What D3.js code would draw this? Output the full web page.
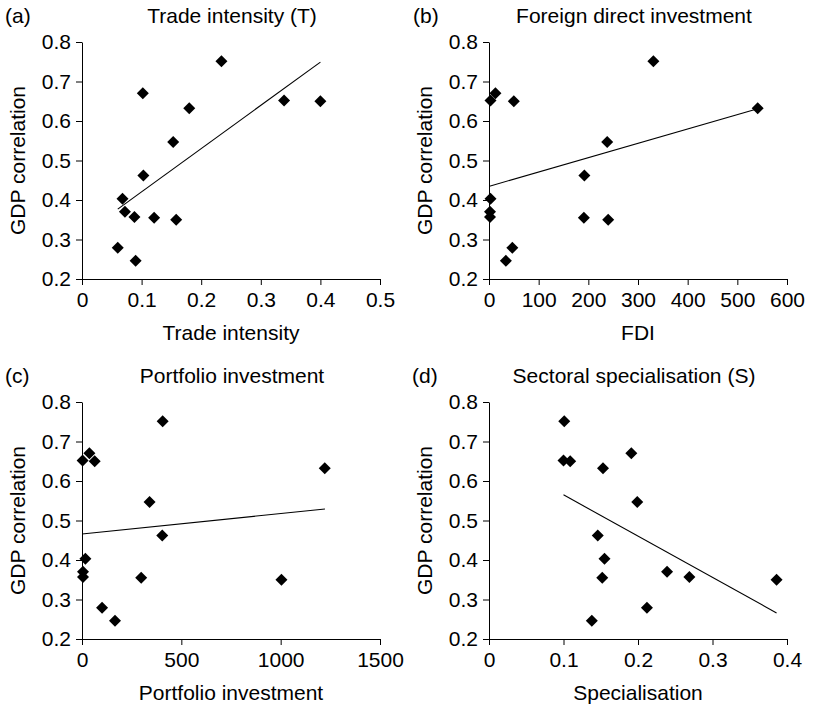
<!DOCTYPE html>
<html>
<head>
<meta charset="utf-8">
<script src="https://cdn.jsdelivr.net/npm/d3@7"></script>
<style>
  body { margin: 0; background: #fff; }
  text { font-family: "Liberation Sans", Arial, sans-serif; }
</style>
</head>
<body>
<div class="chart"></div>
<script>
// GDP correlation of each country pair (shared y values)
var gdpCorr = [0.751, 0.670, 0.652, 0.650, 0.632, 0.547, 0.462, 0.403, 0.370, 0.357, 0.355, 0.350, 0.279, 0.246];

// explanatory variables, same order as gdpCorr
var tradeIntensity = [0.234, 0.102, 0.339, 0.400, 0.180, 0.153, 0.103, 0.068, 0.072, 0.088, 0.121, 0.158, 0.060, 0.090];
var fdi = [331, 13, 3, 50, 541, 238, 192, 3, 2, 2, 191, 240, 47, 34];
var portfolio = [406, 37, 3, 64, 1222, 340, 404, 17, 5, 5, 298, 1004, 101, 166];
var specialisation = [0.101, 0.191, 0.100, 0.109, 0.153, 0.199, 0.146, 0.155, 0.239, 0.269, 0.152, 0.386, 0.212, 0.138];

// fitted trend lines, end points [x, y]
var trendT = [[0.060, 0.377], [0.400, 0.749]];
var trendFdi = [[1, 0.435], [541, 0.631]];
var trendPortfolio = [[0, 0.466], [1223, 0.529]];
var trendSpec = [[0.100, 0.565], [0.386, 0.266]];

// tick values
var yTicks = [0.2, 0.3, 0.4, 0.5, 0.6, 0.7, 0.8];
var xTicksT = [0, 0.1, 0.2, 0.3, 0.4, 0.5];
var xTicksFdi = [0, 100, 200, 300, 400, 500, 600];
var xTicksPortfolio = [0, 500, 1000, 1500];
var xTicksSpec = [0, 0.1, 0.2, 0.3, 0.4];

var panels = [
    { tag: "(a)", title: "Trade intensity (T)", xLabel: "Trade intensity", xs: tradeIntensity, xTicks: xTicksT, trend: trendT,
      left: 82, top: 42, tagX: 5, titleX: 232 },
    { tag: "(b)", title: "Foreign direct investment", xLabel: "FDI", xs: fdi, xTicks: xTicksFdi, trend: trendFdi,
      left: 489, top: 42, tagX: 413, titleX: 634 },
    { tag: "(c)", title: "Portfolio investment", xLabel: "Portfolio investment", xs: portfolio, xTicks: xTicksPortfolio, trend: trendPortfolio,
      left: 82, top: 402, tagX: 5, titleX: 232 },
    { tag: "(d)", title: "Sectoral specialisation (S)", xLabel: "Specialisation", xs: specialisation, xTicks: xTicksSpec, trend: trendSpec,
      left: 489, top: 402, tagX: 412, titleX: 634 }
];

var width = 298;
var height = 237;
var fontSize = 21;

var svg = d3.select(".chart")
    .append("svg")
    .attr("width", 814).attr("height", 705);

panels.forEach(drawPanel);

function drawPanel(p) {
    var data = p.xs.map(function(x, i) { return { x: x, y: gdpCorr[i] }; });

    var xScale = d3.scaleLinear()
        .domain(d3.extent(p.xTicks)).range([0, width]);
    var yScale = d3.scaleLinear()
        .domain(d3.extent(yTicks)).range([height, 0]);

    var g = svg.append("g")
        .attr("transform", `translate(${p.left}, ${p.top})`);

    var bottomAxis = d3.axisBottom(xScale)
        .tickValues(p.xTicks).tickFormat(d => d)
        .tickSize(6).tickSizeOuter(0).tickPadding(7);
    var leftAxis = d3.axisLeft(yScale)
        .tickValues(yTicks).tickFormat(d => d)
        .tickSize(6).tickSizeOuter(0).tickPadding(5);

    var xg = g.append("g")
        .attr("transform", `translate(0, ${height})`)
        .call(bottomAxis);
    var yg = g.append("g").call(leftAxis);

    [xg, yg].forEach(function(ax) {
        ax.attr("font-family", null).attr("font-size", null);
        ax.selectAll("path, line").attr("stroke", "#000");
        ax.selectAll("text").attr("fill", "#000").style("font-size", fontSize + "px");
    });

    // trend line
    g.append("line")
        .attr("x1", xScale(p.trend[0][0])).attr("y1", yScale(p.trend[0][1]))
        .attr("x2", xScale(p.trend[1][0])).attr("y2", yScale(p.trend[1][1]))
        .attr("stroke", "#000").attr("stroke-width", 1.1);

    // diamond markers
    g.selectAll(".pt")
        .data(data)
        .enter()
        .append("path")
        .attr("class", "pt")
        .attr("d", "M0,-6L6,0L0,6L-6,0Z")
        .attr("transform", d => `translate(${xScale(d.x)}, ${yScale(d.y)})`)
        .attr("fill", "#000");

    // texts
    svg.append("text")
        .attr("x", p.tagX).attr("y", p.top - 19)
        .style("font-size", fontSize + "px")
        .text(p.tag);

    svg.append("text")
        .attr("x", p.titleX).attr("y", p.top - 19)
        .attr("text-anchor", "middle")
        .style("font-size", fontSize + "px")
        .text(p.title);

    svg.append("text")
        .attr("x", p.left + width / 2).attr("y", p.top + height + 61)
        .attr("text-anchor", "middle")
        .style("font-size", fontSize + "px")
        .text(p.xLabel);

    svg.append("text")
        .attr("transform", `translate(${p.left - 57}, ${p.top + height / 2}) rotate(-90)`)
        .attr("text-anchor", "middle")
        .style("font-size", fontSize + "px")
        .text("GDP correlation");
}
</script>
</body>
</html>
